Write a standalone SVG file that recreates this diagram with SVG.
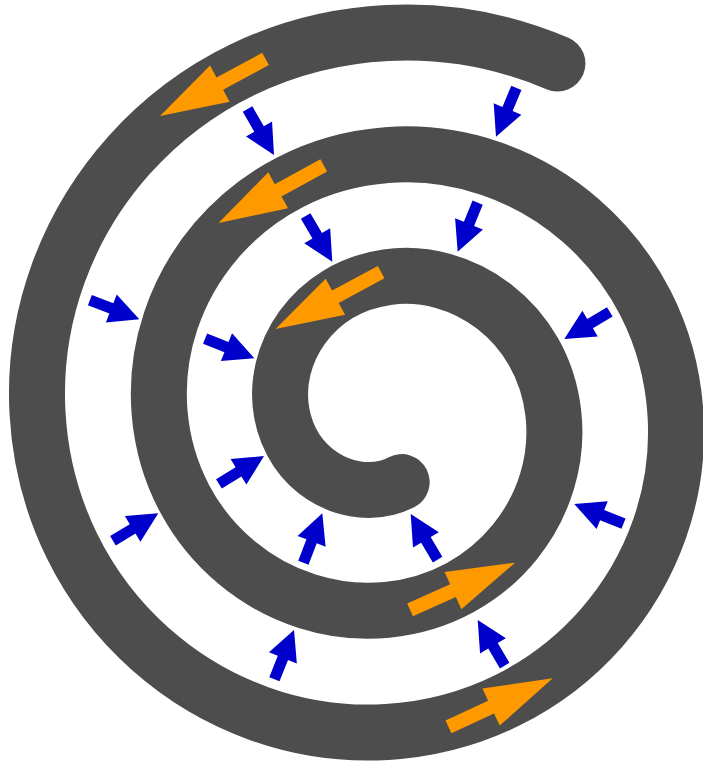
<svg xmlns="http://www.w3.org/2000/svg" xmlns:xlink="http://www.w3.org/1999/xlink" width="703" height="763" viewBox="0 0 703 763">
<style>
.spiral{fill:none;stroke:#4d4d4d;stroke-width:56;stroke-linecap:round}
.orange{fill:#ff9900}
.blue{fill:#0000cc}
</style>
<defs>
<path id="oa" d="M0,0 L-68,-20.5 L-68,-7 L-120,-7 L-120,7 L-68,7 L-68,20.5 Z"/>
<path id="ob" d="M0,0 L-68,-20.5 L-68,-7 L-115,-7 L-115,7 L-68,7 L-68,20.5 Z"/>
<path id="ba" d="M0,0 L-30,-15 L-30,-5.5 L-53,-5.5 L-53,5.5 L-30,5.5 L-30,15 Z"/>
</defs>
<rect width="703" height="763" fill="#ffffff"/>
<g id="spiral">
<path class="spiral" d="M401.69,482.11 C397.14,484.47 392.22,486.37 387,487.73 C345.73,498.46 292.47,471.13 281.74,413 C271.01,354.87 312.01,287.95 387,277.22 C461.99,266.49 542.58,321.15 553.31,413 C564.04,504.85 495.71,599.11 387,609.84 C278.29,620.57 170.36,538.57 159.63,413 C148.9,287.43 244.57,165.83 387,155.1 C529.43,144.37 664.69,253.71 675.42,413 C686.15,572.29 563.15,721.22 387,731.95 C210.85,742.68 48.25,606.01 37.52,413 C26.79,219.99 177.13,43.72 387,32.99 C444.73,30.04 503.06,40.28 557.45,63.52"/>
</g>
<g id="flow-arrows" class="orange">
<use id="o1" href="#oa" xlink:href="#oa" transform="translate(160,116) rotate(151.6)"/>
<use id="o2" href="#oa" xlink:href="#oa" transform="translate(218.5,223) rotate(151.3)"/>
<use id="o3" href="#oa" xlink:href="#oa" transform="translate(275.5,329) rotate(151.7)"/>
<use id="o4" href="#ob" xlink:href="#ob" transform="translate(515,562.7) rotate(-24.2)"/>
<use id="o5" href="#ob" xlink:href="#ob" transform="translate(552.7,678.3) rotate(-25)"/>
</g>
<g id="inward-arrows" class="blue">
<use id="b1" href="#ba" xlink:href="#ba" transform="translate(496,136.7) rotate(112.6)"/>
<use id="b2" href="#ba" xlink:href="#ba" transform="translate(274,155) rotate(60.1)"/>
<use id="b3" href="#ba" xlink:href="#ba" transform="translate(457.7,251.7) rotate(112.1)"/>
<use id="b4" href="#ba" xlink:href="#ba" transform="translate(332.3,261.7) rotate(59.8)"/>
<use id="b5" href="#ba" xlink:href="#ba" transform="translate(564.3,339) rotate(149.2)"/>
<use id="b6" href="#ba" xlink:href="#ba" transform="translate(139.3,319.3) rotate(21.2)"/>
<use id="b7" href="#ba" xlink:href="#ba" transform="translate(254.3,358.3) rotate(21.9)"/>
<use id="b8" href="#ba" xlink:href="#ba" transform="translate(264,456) rotate(-31.8)"/>
<use id="b9" href="#ba" xlink:href="#ba" transform="translate(158.3,513.3) rotate(-31.2)"/>
<use id="b10" href="#ba" xlink:href="#ba" transform="translate(322.3,513.3) rotate(-69.1)"/>
<use id="b11" href="#ba" xlink:href="#ba" transform="translate(410.7,514) rotate(-120.5)"/>
<use id="b12" href="#ba" xlink:href="#ba" transform="translate(574.3,504) rotate(-158.2)"/>
<use id="b13" href="#ba" xlink:href="#ba" transform="translate(294,630) rotate(-68.3)"/>
<use id="b14" href="#ba" xlink:href="#ba" transform="translate(477.7,620) rotate(-120.6)"/>
</g>
</svg>
